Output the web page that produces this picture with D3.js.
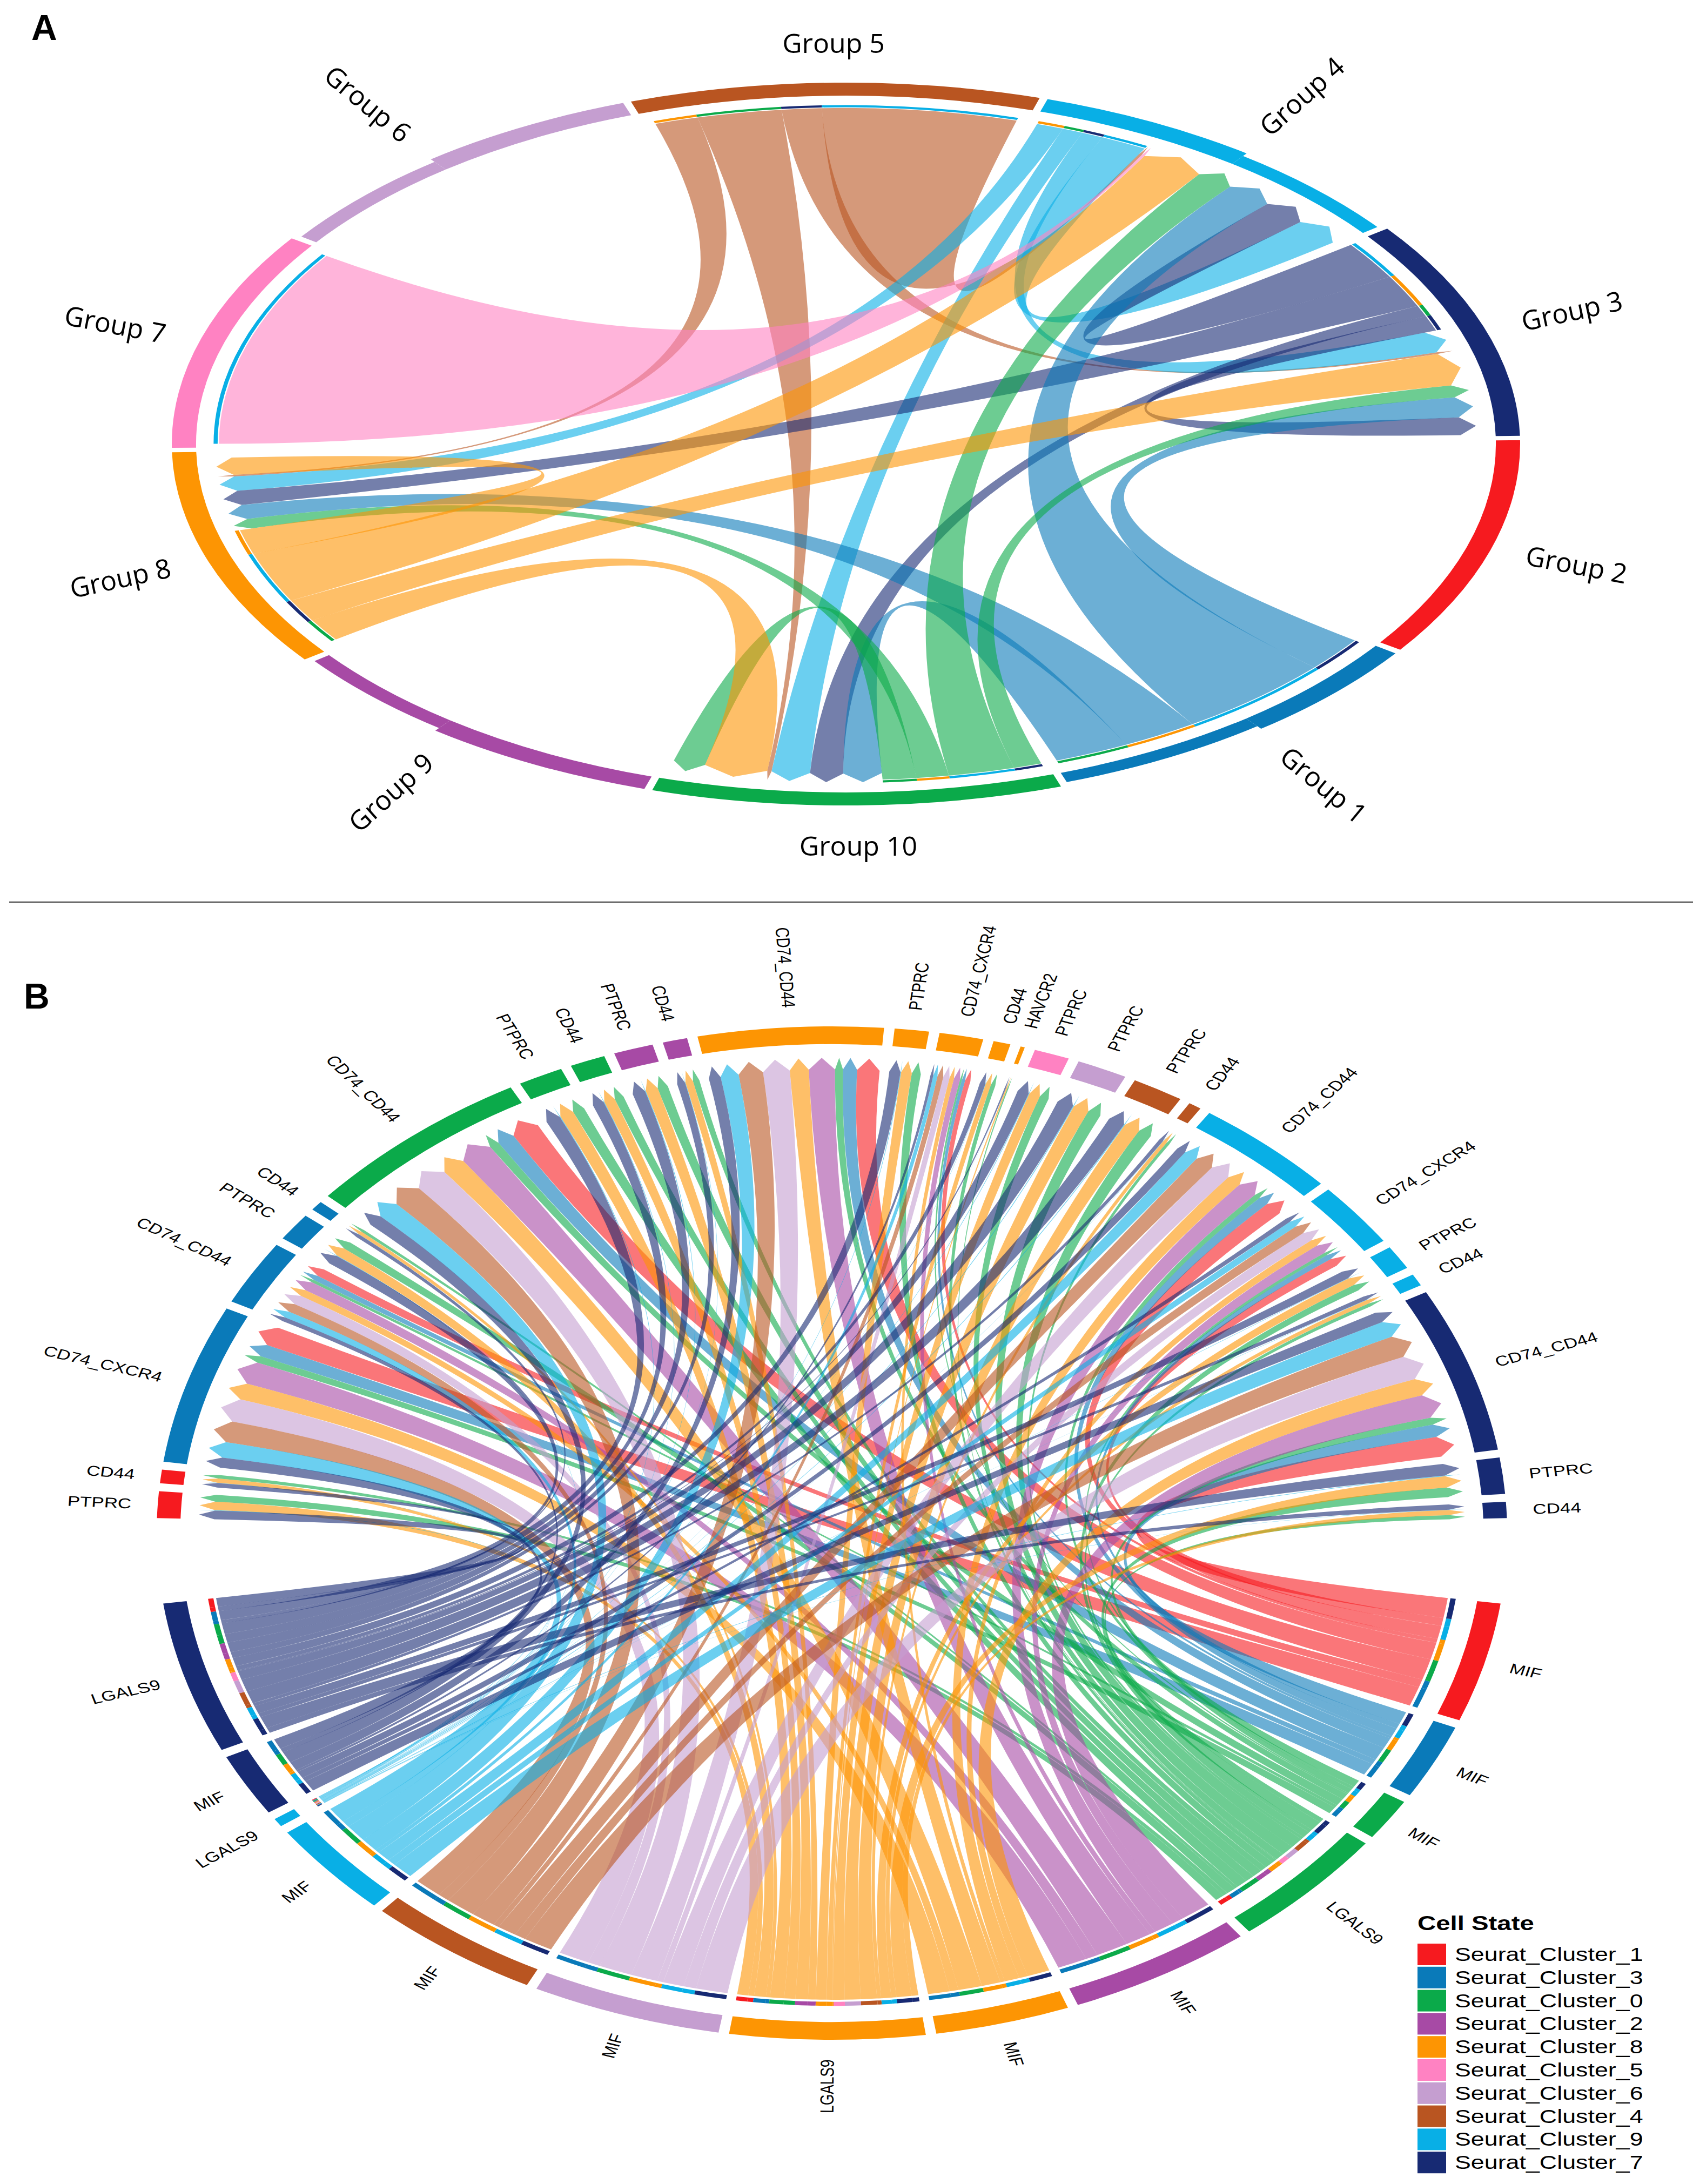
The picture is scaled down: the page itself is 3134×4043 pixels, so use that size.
<!DOCTYPE html>
<html>
<head>
<meta charset="utf-8">
<script src="https://cdnjs.cloudflare.com/ajax/libs/d3/7.8.5/d3.min.js"></script>
<style>
body { margin: 0; background: #fff; }
</style>
</head>
<body>
<script>
// ---------- data ----------
// cell clusters, in legend order
var clusterIds = [1, 3, 0, 2, 8, 5, 6, 4, 9, 7];
var clusterColors = ["#F61A1F", "#0A7AB9", "#0BAA4A", "#A74AA5", "#FD9503",
                     "#FF82C2", "#C59ED0", "#B95521", "#08AFE6", "#172A73"];

// panel A: groups and their colours
var groupIds = [1, 2, 3, 4, 5, 6, 7, 8, 9, 10];
var groupColors = ["#0A7AB9", "#F61A1F", "#172A73", "#08AFE6", "#B95521",
                   "#C59ED0", "#FF82C2", "#FD9503", "#A74AA5", "#0BAA4A"];
var groupOrder = [5, 4, 3, 2, 1, 10, 9, 8, 7, 6]; // clockwise from the top

// panel A links (scaled chord: width at sender and at receiver)
var linkSource = [5, 5, 5, 5, 4, 4, 4, 4, 3, 3, 3, 3, 1, 1, 1, 1, 10, 10, 10, 10, 8, 8, 8, 8, 7];
var linkTarget = [8, 10, 3, 4, 8, 10, 3, 4, 4, 8, 10, 3, 3, 4, 8, 10, 3, 4, 8, 10, 10, 3, 4, 8, 4];
var linkOut = [4.0, 7.8, 3.7, 18.0, 2.5, 1.9, 2.0, 4.3, 6.5, 5.6, 1.9, 2.6,
               5.9, 14.8, 7.0, 6.9, 2.6, 6.1, 3.0, 3.1, 3.9, 3.9, 8.7, 4.2, 34.0];
var linkIn = [0.3, 0.4, 0.3, 0.3, 2.5, 3.6, 3.6, 4.7, 4.4, 2.5, 3.1, 3.1,
              3.5, 4.6, 2.5, 3.6, 2.1, 3.6, 1.7, 3.0, 5.9, 5.6, 6.0, 3.0, 0.3];

// panel B: receptor sectors (top, clockwise from the left)
var recCluster = [1, 1, 3, 3, 3, 3, 0, 0, 0, 2, 2, 8, 8, 8, 8, 8, 5, 6, 4, 4, 9, 9, 9, 9, 7, 7, 7];
var recGene = ["PTPRC", "CD44", "CD74_CXCR4", "CD74_CD44", "PTPRC", "CD44",
               "CD74_CD44", "PTPRC", "CD44", "PTPRC", "CD44",
               "CD74_CD44", "PTPRC", "CD74_CXCR4", "CD44", "HAVCR2",
               "PTPRC", "PTPRC", "PTPRC", "CD44",
               "CD74_CD44", "CD74_CXCR4", "PTPRC", "CD44",
               "CD74_CD44", "PTPRC", "CD44"];
var recValue = [3.3, 1.7, 18.3, 7.5, 3.5, 1.2, 20, 4.2, 3.3, 3.7, 2.3,
                16, 3.2, 3.8, 1.6, 0.4, 3.3, 4.7, 4.8, 1.2,
                12.5, 7.5, 3.0, 1.5, 19, 4.5, 2.0];

// panel B: ligand sectors (bottom, clockwise from the right)
var ligCluster = [1, 3, 0, 0, 2, 8, 8, 6, 4, 9, 9, 7, 7];
var ligGene = ["MIF", "MIF", "MIF", "LGALS9", "MIF", "MIF", "LGALS9",
               "MIF", "MIF", "MIF", "LGALS9", "MIF", "LGALS9"];
var ligValue = [14.2, 8.9, 5.0, 14.6, 16.5, 12.0, 17.4, 16.9, 15.5, 11.5, 1.0, 7.5, 18.0];

var ligandReceptors = {
    MIF: ["CD74_CXCR4", "CD74_CD44"],
    LGALS9: ["PTPRC", "CD44", "HAVCR2"]
};

// ---------- drawing ----------
var width = 3134;
var height = 4043;
var deg = Math.PI / 180;

var clusterColor = d3.scaleOrdinal().domain(clusterIds).range(clusterColors);
var groupColor = d3.scaleOrdinal().domain(groupIds).range(groupColors);

var svg = d3.select('body')
    .append('svg')
    .attr('width', width)
    .attr('height', height);

svg.append('rect')
    .attr('width', width)
    .attr('height', height)
    .attr('fill', '#fff');

function mod360(a) { return ((a % 360) + 360) % 360; }

// ===== panel A =====
var A = { cx: 1566, cy: 822, sx: 1.248, sy: 0.669, start: -18.6, span: 35.3, step: 36 };

var plotA = svg.append('g')
    .classed('panelA', true)
    .attr('transform', 'translate(' + A.cx + ',' + A.cy + ') scale(' + A.sx + ',' + A.sy + ')');

var groupStart = {}, groupMid = {};
groupOrder.forEach(function (g, k) {
    groupStart[g] = A.start + k * A.step;
    groupMid[g] = groupStart[g] + A.span / 2;
});

var linksA = linkSource.map(function (s, i) {
    return { s: s, t: linkTarget[i], wOut: linkOut[i], wIn: linkIn[i] };
});

function relA(from, to) {
    if (from === to) return 0;
    return mod360(groupMid[to] - groupMid[from]);
}

// stack outgoing then incoming link ends inside each group
groupOrder.forEach(function (g) {
    var outs = linksA.filter(function (l) { return l.s === g; })
        .sort(function (p, q) { return relA(g, q.t) - relA(g, p.t); });
    var ins = linksA.filter(function (l) { return l.t === g; })
        .sort(function (p, q) { return relA(g, q.s) - relA(g, p.s); });
    var used = d3.sum(outs, function (l) { return l.wOut; }) + d3.sum(ins, function (l) { return l.wIn; });
    var a = groupStart[g] + (A.span - used) / 2;
    outs.forEach(function (l) {
        l.src = { startAngle: a * deg, endAngle: (a + l.wOut) * deg, radius: 930 };
        a += l.wOut;
    });
    ins.forEach(function (l) {
        l.tgt = { startAngle: a * deg, endAngle: (a + l.wIn) * deg, radius: 936 };
        a += l.wIn;
    });
});

// outer bands (some groups have a slightly thinner stretch)
var thinPart = { 4: [0.54, 1], 6: [0, 0.47], 9: [0.57, 1], 1: [0.47, 1] };
var bandA = d3.arc();
groupOrder.forEach(function (g) {
    var s = groupStart[g], e = s + A.span;
    var parts = [];
    if (thinPart[g]) {
        var t0 = s + thinPart[g][0] * A.span, t1 = s + thinPart[g][1] * A.span;
        if (t0 > s) parts.push([s, t0, 1000]);
        parts.push([t0, t1, 991]);
        if (t1 < e) parts.push([t1, e, 1000]);
    } else {
        parts.push([s, e, 1000]);
    }
    parts.forEach(function (p) {
        plotA.append('path')
            .attr('d', bandA({ innerRadius: 964, outerRadius: p[2], startAngle: p[0] * deg, endAngle: p[1] * deg }))
            .attr('fill', groupColor(g));
    });
});

// thin track: where each sender's links go
plotA.append('g').selectAll('path')
    .data(linksA)
    .enter()
    .append('path')
    .attr('d', function (l) {
        return bandA({ innerRadius: 932, outerRadius: 938, startAngle: l.src.startAngle, endAngle: l.src.endAngle });
    })
    .attr('fill', function (l) { return groupColor(l.t); });

var ribbonA = d3.ribbonArrow()
    .source(function (l) { return l.src; })
    .target(function (l) { return l.tgt; })
    .headRadius(24);

plotA.append('g').selectAll('path')
    .data(linksA)
    .enter()
    .append('path')
    .attr('d', ribbonA)
    .attr('fill', function (l) { return groupColor(l.s); })
    .attr('fill-opacity', 0.6);

// group labels (not stretched)
var labelsA = svg.append('g').classed('labelsA', true)
    .style('font-family', '"Open Sans", "DejaVu Sans", sans-serif')
    .style('font-size', '50px');
groupOrder.forEach(function (g) {
    var th = mod360(groupMid[g]);
    var s2 = Math.sin(2 * th * deg);
    var r = 1110 + 75 * s2 * s2;
    var x = A.cx + A.sx * r * Math.sin(th * deg);
    var y = A.cy - A.sy * r * Math.cos(th * deg);
    var rot = 0;
    if (Math.abs(Math.sin(th * deg)) > 0.3) {
        var r0 = (th < 180 ? th - 90 : th - 270) * deg;
        rot = Math.atan2(Math.sin(r0), Math.cos(r0) * 1.6) / deg;
    }
    labelsA.append('text')
        .attr('transform', 'translate(' + x + ',' + y + ') rotate(' + rot + ')')
        .attr('text-anchor', 'middle')
        .attr('dominant-baseline', 'central')
        .text('Group ' + g);
});

// ===== separator and panel letters =====
svg.append('line')
    .attr('x1', 17).attr('x2', 3134)
    .attr('y1', 1670).attr('y2', 1670)
    .attr('stroke', '#555')
    .attr('stroke-width', 2.5);

svg.append('text')
    .attr('x', 58).attr('y', 74)
    .style('font-family', '"Liberation Sans Narrow", "Liberation Sans", Arial, sans-serif')
    .style('font-weight', 'bold')
    .style('font-size', '66px')
    .text('A');
svg.append('text')
    .attr('x', 44).attr('y', 1867)
    .style('font-family', '"Liberation Sans Narrow", "Liberation Sans", Arial, sans-serif')
    .style('font-weight', 'bold')
    .style('font-size', '66px')
    .text('B');

// ===== panel B =====
var B = { cx: 1540, cy: 2838, sx: 1.25, sy: 0.938, topStart: -88.3, gap: 0.9, bigGap: 9.7 };

var plotB = svg.append('g')
    .classed('panelB', true)
    .attr('transform', 'translate(' + B.cx + ',' + B.cy + ') scale(' + B.sx + ',' + B.sy + ')');

var linksB = [];
ligGene.forEach(function (lg, l) {
    var accepted = ligandReceptors[lg];
    var tot = d3.sum(recValue.filter(function (v, r) { return accepted.indexOf(recGene[r]) >= 0; }));
    recGene.forEach(function (rg, r) {
        if (accepted.indexOf(rg) >= 0) {
            linksB.push({ l: l, r: r, v: ligValue[l] * recValue[r] / tot });
        }
    });
});

var recSize = recGene.map(function (g, r) {
    return d3.sum(linksB.filter(function (k) { return k.r === r; }), function (k) { return k.v; });
});
var total = d3.sum(ligValue);
var nGaps = (recGene.length - 1) + (ligGene.length - 1);
var angle = d3.scaleLinear()
    .domain([0, total])
    .range([0, (360 - nGaps * B.gap - 2 * B.bigGap) / 2]);

var recStart = [], recMid = [], ligStart = [], ligMid = [];
var a0 = B.topStart;
recSize.forEach(function (v, r) {
    recStart[r] = a0;
    recMid[r] = a0 + angle(v) / 2;
    a0 += angle(v) + B.gap;
});
a0 += B.bigGap - B.gap;
ligValue.forEach(function (v, l) {
    ligStart[l] = a0;
    ligMid[l] = a0 + angle(v) / 2;
    a0 += angle(v) + B.gap;
});

// ligand ends
ligValue.forEach(function (v, l) {
    var a = ligStart[l];
    linksB.filter(function (k) { return k.l === l; })
        .sort(function (p, q) { return mod360(recMid[q.r] - ligMid[l]) - mod360(recMid[p.r] - ligMid[l]); })
        .forEach(function (k) {
            k.src = { startAngle: a * deg, endAngle: (a + angle(k.v)) * deg, radius: 921 };
            a += angle(k.v);
        });
});
// receptor ends
recSize.forEach(function (v, r) {
    var a = recStart[r];
    linksB.filter(function (k) { return k.r === r; })
        .sort(function (p, q) { return mod360(ligMid[q.l] - recMid[r]) - mod360(ligMid[p.l] - recMid[r]); })
        .forEach(function (k) {
            k.tgt = { startAngle: a * deg, endAngle: (a + angle(k.v)) * deg, radius: 938 };
            a += angle(k.v);
        });
});

var sectorsB = recGene.map(function (g, r) {
    return { name: g, cluster: recCluster[r], start: recStart[r], end: recStart[r] + angle(recSize[r]), mid: recMid[r] };
}).concat(ligGene.map(function (g, l) {
    return { name: g, cluster: ligCluster[l], start: ligStart[l], end: ligStart[l] + angle(ligValue[l]), mid: ligMid[l] };
}));

var bandB = d3.arc().innerRadius(965).outerRadius(1000);
plotB.append('g').selectAll('path')
    .data(sectorsB)
    .enter()
    .append('path')
    .attr('d', function (d) { return bandB({ startAngle: d.start * deg, endAngle: d.end * deg }); })
    .attr('fill', function (d) { return clusterColor(d.cluster); });

var trackB = d3.arc().innerRadius(925).outerRadius(933);
plotB.append('g').selectAll('path')
    .data(linksB)
    .enter()
    .append('path')
    .attr('d', function (k) { return trackB({ startAngle: k.src.startAngle, endAngle: k.src.endAngle }); })
    .attr('fill', function (k) { return clusterColor(recCluster[k.r]); });

var ribbonB = d3.ribbonArrow()
    .source(function (k) { return k.src; })
    .target(function (k) { return k.tgt; })
    .headRadius(23);

plotB.append('g').selectAll('path')
    .data(linksB)
    .enter()
    .append('path')
    .attr('d', ribbonB)
    .attr('fill', function (k) { return clusterColor(ligCluster[k.l]); })
    .attr('fill-opacity', 0.6);

plotB.append('g')
    .style('font-family', '"Liberation Sans", Arial, sans-serif')
    .style('font-size', '28px')
    .selectAll('text')
    .data(sectorsB)
    .enter()
    .append('text')
    .attr('transform', function (d) {
        var th = mod360(d.mid);
        return 'rotate(' + (th - 90) + ') translate(1039,0)' + (th >= 180 ? ' rotate(180)' : '');
    })
    .attr('text-anchor', function (d) { return mod360(d.mid) >= 180 ? 'end' : 'start'; })
    .attr('dy', '0.35em')
    .text(function (d) { return d.name; });

// ===== legend =====
var legend = svg.append('g')
    .classed('legend', true)
    .style('font-family', '"Liberation Sans", Arial, sans-serif');

legend.append('text')
    .attr('transform', 'translate(2624,3573) scale(1.28,1)')
    .style('font-weight', 'bold')
    .style('font-size', '37px')
    .text('Cell State');

clusterIds.forEach(function (c, i) {
    var y = 3598 + i * 42.8;
    legend.append('rect')
        .attr('x', 2624).attr('y', y)
        .attr('width', 53).attr('height', 40)
        .attr('fill', clusterColor(c));
    legend.append('text')
        .attr('transform', 'translate(2693,' + (y + 32) + ') scale(1.28,1)')
        .style('font-size', '35px')
        .text('Seurat_Cluster_' + c);
});
</script>
</body>
</html>
